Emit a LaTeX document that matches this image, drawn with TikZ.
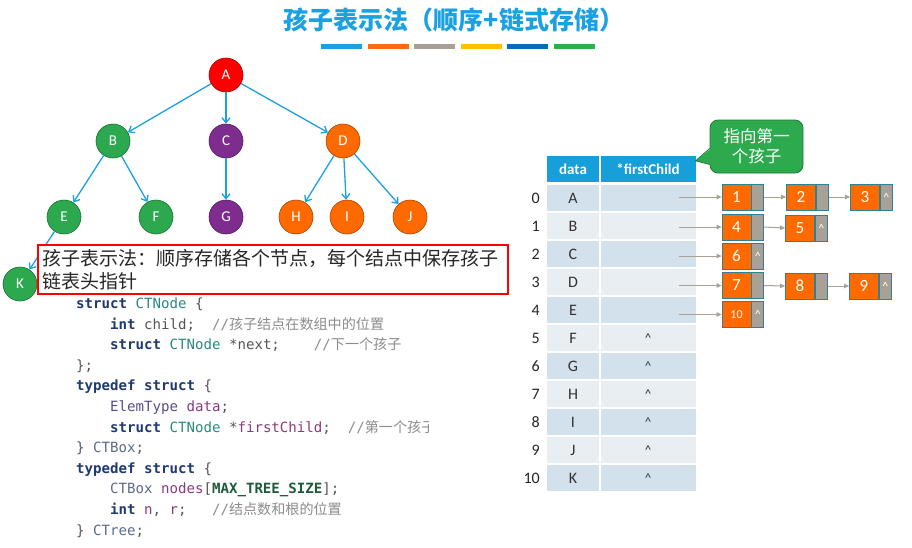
\documentclass[tikz,border=0pt]{standalone}
\usepackage{fontspec}
\setmainfont{Carlito}
\setmonofont{DejaVu Sans Mono}
\newfontfamily\cjk{Noto Sans CJK SC}
\usetikzlibrary{positioning,arrows.meta}

\definecolor{titleblue}{HTML}{1BA1E2}
\definecolor{barorange}{HTML}{FF6A10}
\definecolor{bargray}{HTML}{A6A096}
\definecolor{baryellow}{HTML}{FFC000}
\definecolor{barblue}{HTML}{0B6BB5}
\definecolor{bargreen}{HTML}{2DAF4A}
\definecolor{treered}{HTML}{FF0000}
\definecolor{treegreen}{HTML}{2CA94F}
\definecolor{treepurple}{HTML}{7E2D8F}
\definecolor{treeorange}{HTML}{FF6A00}
\definecolor{rowdark}{HTML}{D3E1EC}
\definecolor{rowlight}{HTML}{E9EEF3}
\definecolor{headblue}{HTML}{169FD8}
\definecolor{ptrgray}{HTML}{A9A196}
\definecolor{boxedge}{HTML}{2F7F95}
\definecolor{tipgreen}{HTML}{2EAA4E}
\definecolor{kwcol}{HTML}{1F3A70}
\definecolor{typecol}{HTML}{2B8A7E}
\definecolor{varcol}{HTML}{8B3A7E}
\definecolor{etcol}{HTML}{5A4C86}
\definecolor{plaincol}{HTML}{555555}
\definecolor{cmtcol}{HTML}{8C8C8C}
\definecolor{macrocol}{HTML}{1E5A3A}
\definecolor{slatecol}{HTML}{5B6B8A}

\newcommand\ckw[1]{\textcolor{kwcol}{\bfseries #1}}
\newcommand\cty[1]{\textcolor{typecol}{#1}}
\newcommand\cvar[1]{\textcolor{varcol}{#1}}
\newcommand\cet[1]{\textcolor{etcol}{#1}}
\newcommand\cpl[1]{\textcolor{plaincol}{#1}}
\newcommand\csl[1]{\textcolor{slatecol}{#1}}
\newcommand\cmac[1]{\textcolor{macrocol}{\bfseries #1}}
\newcommand\ccmt[1]{\textcolor{cmtcol}{//{\cjk #1}}}

\tikzset{
  tn/.style={circle, draw=#1!65!black, fill=#1, line width=0.6pt, minimum size=34pt, inner sep=0pt, text=white, font=\fontsize{15}{15}\selectfont},
  tedge/.style={draw=titleblue, line width=1.3pt, -{Straight Barb[length=5pt,width=8pt]}},
  hcell/.style={fill=headblue, minimum height=26pt, inner sep=0pt, text=white, font=\bfseries\fontsize{15}{15}\selectfont},
  cell/.style={minimum height=26pt, inner sep=0pt, text=black!80, font=\fontsize{16}{16}\selectfont},
  idx/.style={inner sep=0pt, text=black!85, font=\fontsize{16}{16}\selectfont},
  dat/.style={fill=treeorange, draw=boxedge, line width=0.8pt, minimum width=29pt, minimum height=26pt, inner sep=0pt, text=white, font=\fontsize{17}{17}\selectfont},
  nil/.style={fill=ptrgray, draw=boxedge, line width=0.8pt, minimum width=12pt, minimum height=26pt, inner sep=0pt, text=white, font=\fontsize{12}{12}\selectfont},
  ptr/.style={draw=ptrgray, line width=1pt, -{Triangle[length=5pt,width=4.5pt]}},
  codeline/.style={anchor=west, inner sep=0pt, text height=10pt, text depth=3pt, font=\ttfamily\fontsize{14.1}{14.1}\selectfont}
}

\begin{document}
\begin{tikzpicture}[x=1pt,y=-1pt]
\fill[white] (0,0) rectangle (912,547);
\useasboundingbox (0,0) rectangle (912,547);

\node[font=\cjk\bfseries\fontsize{25}{25}\selectfont, text=titleblue] (title) at (454,20) {孩子表示法（顺序+链式存储）};
\foreach \c [count=\k] in {titleblue,barorange,bargray,baryellow,barblue,bargreen}
  \fill[\c] ({321+46.6*(\k-1)},43.5) rectangle +(41,5);

\node[tn=treered] (A) at (226,75) {A};
\node[tn=treegreen] (B) at (113,141) {B};
\node[tn=treepurple] (C) at (226,141) {C};
\node[tn=treeorange] (D) at (343,141) {D};
\node[tn=treegreen] (E) at (64,217) {E};
\node[tn=treegreen] (F) at (156,217) {F};
\node[tn=treepurple] (G) at (226,217) {G};
\node[tn=treeorange] (H) at (296,217) {H};
\node[tn=treeorange] (I) at (347,217) {I};
\node[tn=treeorange] (J) at (410,217) {J};
\node[tn=treegreen] (K) at (20,284) {K};
\foreach \a/\b in {A/B,A/C,A/D,B/E,B/F,C/G,D/H,D/I,D/J,E/K}
  \draw[tedge] (\a) -- (\b);

\node[draw=red, line width=1.5pt, fill=white, minimum width=470pt, minimum height=49pt, inner sep=4pt,
  text width=462pt, align=left, text=black!85, font=\cjk\fontsize{19}{23}\selectfont] (note) at (273,269.5)
  {孩子表示法：顺序存储各个节点，每个结点中保存孩子\\链表头指针};

\begin{scope}
\clip (0,295) rectangle (428,547);
\node[codeline] (c1) at (76,305) {\ckw{struct} \cty{CTNode} \cpl{\{}};
\node[codeline] (c2) at (110,325.6) {\ckw{int} \cpl{child;}~~\ccmt{孩子结点在数组中的位置}};
\node[codeline] (c3) at (110,346.2) {\ckw{struct} \cty{CTNode} \cpl{*next;}~~~~\ccmt{下一个孩子}};
\node[codeline] (c4) at (76,366.8) {\cpl{\};}};
\node[codeline] (c5) at (76,387.4) {\ckw{typedef} \ckw{struct} \cpl{\{}};
\node[codeline] (c6) at (110,408) {\cet{ElemType} \cvar{data}\cpl{;}};
\node[codeline] (c7) at (110,428.6) {\ckw{struct} \cty{CTNode} \cpl{*}\cvar{firstChild}\cpl{;}~~\ccmt{第一个孩子}};
\node[codeline] (c8) at (76,449.2) {\cpl{\}} \csl{CTBox}\cpl{;}};
\node[codeline] (c9) at (76,469.8) {\ckw{typedef} \ckw{struct} \cpl{\{}};
\node[codeline] (c10) at (110,490.4) {\csl{CTBox} \cvar{nodes}\cpl{[}\cmac{MAX\_TREE\_SIZE}\cpl{];}};
\node[codeline] (c11) at (110,511) {\ckw{int} \cvar{n}\cpl{,} \cvar{r}\cpl{;}~~~\ccmt{结点数和根的位置}};
\node[codeline] (c12) at (76,531.6) {\cpl{\}} \csl{CTree}\cpl{;}};
\end{scope}

\node[hcell, minimum width=52pt] (h-data) at (573,169) {data};
\node[hcell, minimum width=95pt] (h-fc) at (648,169) {*firstChild};
\foreach \i/\d/\c in {0/A/rowdark,1/B/rowlight,2/C/rowdark,3/D/rowlight,4/E/rowdark,5/F/rowlight,
    6/G/rowdark,7/H/rowlight,8/I/rowdark,9/J/rowlight,10/K/rowdark} {
  \node[cell, fill=\c, minimum width=52pt] (d\i) at (573,{198+28*\i}) {\d};
  \node[cell, fill=\c, minimum width=95pt] (f\i) at (648,{198+28*\i}) {};
  \node[idx, anchor=east] (i\i) at (540,{198+28*\i}) {\i};
}
\foreach \i in {5,...,10}
  \node[cell, font=\fontsize{13}{13}\selectfont] (nul\i) at (f\i) {\textasciicircum};

\foreach \n/\x/\y/\t in {1/736.5/197/, 2/801/197/, 3/865/197/\textasciicircum,
    4/736.5/227/, 5/800/228/\textasciicircum, 6/736.5/256/\textasciicircum,
    7/736.5/285.5/, 8/800/286/, 9/864/286/\textasciicircum, 10/736.5/314.5/\textasciicircum} {
  \node[dat] (n\n) at (\x,\y) {\ifnum\n=10 \fontsize{12}{12}\selectfont\fi\n};
  \node[nil, right=0pt of n\n] (p\n) {\t};
}

\foreach \i/\n in {0/1,1/4,2/6,3/7,4/10}
  \draw[ptr] ([xshift=-17pt]f\i.east |- n\n.west) -- (n\n.west);
\foreach \a/\b in {1/2,2/3,4/5,7/8,8/9}
  \draw[ptr] (p\a.east) -- (n\b.west);

\node[fill=tipgreen, draw=tipgreen!70!black, line width=0.8pt, rounded corners=8pt, minimum width=93pt, minimum height=53pt,
  inner sep=0pt, text=white, align=center, font=\cjk\fontsize{16.5}{20}\selectfont] (tip) at (756.5,146.5) {指向第一\\个孩子};
\coordinate (tipend) at ([yshift=-5pt]h-fc.north east);
\fill[tipgreen] ([yshift=-2pt,xshift=1.5pt]tip.west) -- (tipend) -- ([yshift=-18pt,xshift=1.5pt]tip.west) -- cycle;
\draw[tipgreen!70!black, line width=0.8pt] ([yshift=-2pt]tip.west) -- (tipend) -- ([yshift=-18pt]tip.west);
\end{tikzpicture}
\end{document}
